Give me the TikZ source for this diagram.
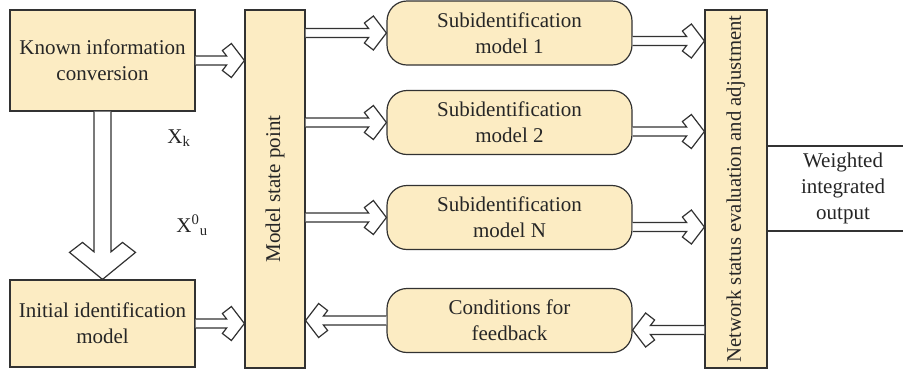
\documentclass[tikz,border=0pt]{standalone}
\usepackage{fontspec}
\setmainfont{Liberation Serif}
\usetikzlibrary{calc}

\definecolor{boxfill}{RGB}{252,236,195}
\definecolor{edge}{RGB}{50,50,50}

\newcommand\px{0.5pt}

% hollow chevron arrow along x; #3 = 1 points right, -1 points left
\newcommand\harrow[3]{%
  \draw[chev] let \p1=(#1), \p2=(#2) in
    (\x1,{\y2+2.25pt}) -- ({\x2-(#3)*8.9pt},{\y2+2.25pt})
    -- ({\x2-(#3)*11pt},{\y2+5pt}) -- ({\x2-(#3)*6.5pt},{\y2+8.5pt})
    -- (\x2,\y2)
    -- ({\x2-(#3)*6.5pt},{\y2-8.5pt}) -- ({\x2-(#3)*11pt},{\y2-5pt})
    -- ({\x2-(#3)*8.9pt},{\y2-2.25pt}) -- (\x1,{\y2-2.25pt});}

% wide hollow chevron arrow pointing down
\newcommand\varrow[2]{%
  \draw[chev] let \p1=(#1), \p2=(#2) in
    ({\x2-4.25pt},\y1) -- ({\x2-4.25pt},{\y2+13.8pt})
    -- ({\x2-10pt},{\y2+18.5pt}) -- ({\x2-16.5pt},{\y2+13.5pt})
    -- (\x2,\y2)
    -- ({\x2+16.5pt},{\y2+13.5pt}) -- ({\x2+10pt},{\y2+18.5pt})
    -- ({\x2+4.25pt},{\y2+13.8pt}) -- ({\x2+4.25pt},\y1);}

\begin{document}
\begin{tikzpicture}[x=0.5pt,y=-0.5pt,
  txt/.style={font=\fontsize{10.5}{13}\selectfont, text=black!85},
  box/.style={txt, draw=edge, line width=0.6pt, fill=boxfill, inner sep=0pt,
    align=center},
  rbox/.style={box, rounded corners=10pt, minimum width=245*\px,
    minimum height=64*\px},
  chev/.style={draw=edge, line width=0.6pt, fill=white, line join=miter}]

\useasboundingbox (0,0) rectangle (903,371);

% left column
\node[box, minimum width=185*\px, minimum height=101*\px] (known) at (102.5,60.5)
  {Known information\\conversion};
\node[box, minimum width=185*\px, minimum height=87*\px] (init) at (102.5,323.5)
  {Initial identification\\model};

% vertical bars
\node[box, minimum width=60*\px, minimum height=358*\px] (msp) at (275,189)
  {\rotatebox{90}{Model state point}};
\node[box, minimum width=62*\px, minimum height=358*\px,
  font=\fontsize{10.35}{13}\selectfont] (net) at (736,189)
  {\rotatebox{90}{Network status evaluation and adjustment}};

% sub-models
\node[rbox] (sub1) at (509.5,33) {Subidentification\\model 1};
\node[rbox] (sub2) at (509.5,122.5) {Subidentification\\model 2};
\node[rbox] (subN) at (509.5,217.5) {Subidentification\\model N};
\node[rbox] (cond) at (509.5,320.5) {Conditions for\\feedback};

% labels beside the down arrow
\node[txt, anchor=base west, inner sep=0pt] (xk) at (167,143) {X\textsubscript{k}};
\node[txt, anchor=base west, inner sep=0pt] (xu) at (176,232)
  {X\textsuperscript{0}\textsubscript{u}};

% arrows
\varrow{known.south}{init.north}
\harrow{known.east}{msp.west |- known.east}{1}
\harrow{init.east}{msp.west |- init.east}{1}
\harrow{msp.east |- sub1.west}{sub1.west}{1}
\harrow{msp.east |- sub2.west}{sub2.west}{1}
\harrow{msp.east |- subN.west}{subN.west}{1}
\harrow{cond.west}{msp.east |- cond.west}{-1}

\coordinate (o1) at ($(sub1.east)+(0,8)$);
\coordinate (o2) at ($(sub2.east)+(0,9)$);
\coordinate (oN) at ($(subN.east)+(0,9.5)$);
\coordinate (fb) at ($(cond.east)+(0,9.5)$);
\harrow{o1}{net.west |- o1}{1}
\harrow{o2}{net.west |- o2}{1}
\harrow{oN}{net.west |- oN}{1}
\harrow{net.west |- fb}{fb}{-1}

% output band
\coordinate (w1) at (903,146);
\coordinate (w2) at (903,231);
\draw[edge, line width=0.6pt] (net.east |- w1) -- (w1);
\draw[edge, line width=0.6pt] (net.east |- w2) -- (w2);
\node[txt, align=center, inner sep=0pt] (wout) at (843,188.5)
  {Weighted\\integrated\\output};

\end{tikzpicture}
\end{document}
